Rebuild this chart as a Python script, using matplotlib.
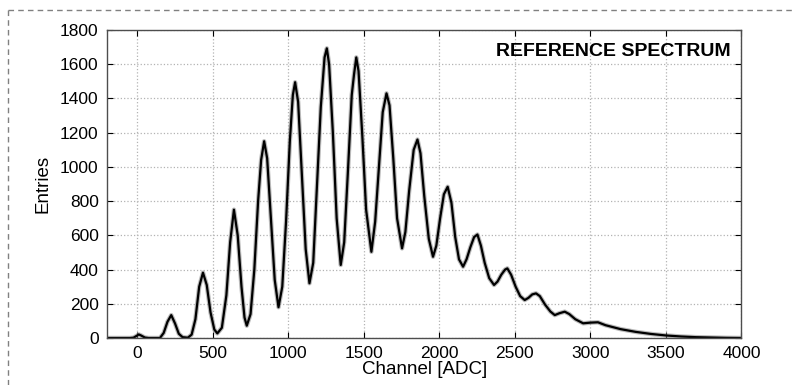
#!/usr/bin/env python3
import numpy as np
from matplotlib import pyplot as plt
from matplotlib.lines import Line2D

''' Reference spectrum of a photo-detector: entries per ADC channel. '''

# Values (channel, entries)
channel = [-190, -50, -25, 0, 10, 25, 50, 75, 150,
           175, 200, 225, 250, 275, 300, 335,
           360, 385, 410, 435, 460, 485, 510, 530,
           560, 590, 615, 640, 665, 690, 710, 725,
           750, 775, 800, 820, 840, 860, 885, 910, 935,
           960, 985, 1010, 1030, 1045, 1065, 1090, 1115, 1140,
           1165, 1190, 1215, 1240, 1255, 1270, 1295, 1320, 1347,
           1370, 1395, 1420, 1435, 1450, 1465, 1490, 1515, 1550,
           1575, 1600, 1625, 1650, 1670, 1695, 1720, 1753,
           1775, 1800, 1830, 1855, 1875, 1900, 1930, 1958,
           1980, 2005, 2030, 2055, 2080, 2105, 2130, 2157,
           2180, 2205, 2230, 2252, 2275, 2300, 2330, 2362,
           2385, 2410, 2435, 2450, 2475, 2505, 2535, 2565,
           2590, 2615, 2640, 2665, 2700, 2735, 2764,
           2795, 2830, 2860, 2900, 2952,
           3000, 3050, 3100, 3200, 3300, 3400, 3500, 3600, 3700, 3800, 3900, 4000]
entries = [0, 0, 2, 15, 21, 15, 3, 0, 0,
           30, 95, 134, 85, 25, 5, 2,
           20, 110, 300, 382, 310, 150, 50, 27,
           60, 250, 560, 750, 600, 300, 120, 72,
           140, 400, 800, 1040, 1150, 1050, 700, 340, 180,
           300, 680, 1150, 1420, 1495, 1380, 950, 520, 320,
           440, 900, 1350, 1640, 1693, 1600, 1200, 700, 427,
           560, 980, 1420, 1540, 1640, 1560, 1180, 750, 504,
           680, 1000, 1320, 1430, 1360, 1050, 700, 524,
           620, 860, 1100, 1160, 1080, 830, 580, 475,
           540, 700, 840, 884, 790, 590, 460, 417,
           460, 530, 590, 605, 540, 440, 350, 310,
           330, 370, 400, 407, 370, 300, 245, 222,
           235, 255, 261, 245, 195, 155, 134,
           145, 154, 140, 110, 86,
           90, 92, 75, 52, 36, 24, 15, 9, 5, 3, 1, 0]

xticks = [0, 500, 1000, 1500, 2000, 2500, 3000, 3500, 4000]
yticks = [0, 200, 400, 600, 800, 1000, 1200, 1400, 1600, 1800]

plt.rcParams['font.family'] = ['Liberation Sans', 'DejaVu Sans']

fig = plt.figure(figsize=(7.93, 3.85), dpi=100)
ax = fig.add_axes([0.135, 0.122, 0.8, 0.8])

# Thick fuzzy trace like the scanned plot
ax.plot(channel, entries, color='0.55', lw=3.2, alpha=0.6, solid_joinstyle='round')
ax.plot(channel, entries, color='k', lw=1.6, solid_joinstyle='round')

ax.set_xlim(-200, 4000)
ax.set_ylim(0, 1800)
ax.set_xticks(xticks)
ax.set_yticks(yticks)
ax.tick_params(direction='in', length=4, top=True, right=True, labelsize=12.5, pad=6)
ax.grid(True, linestyle=':', color='0.7', lw=0.9)
for s in ax.spines.values():
    s.set_color('0.3')
    s.set_linewidth(1.0)

ax.set_xlabel('Channel [ADC]', fontsize=13.5, labelpad=0)
ax.set_ylabel('Entries', fontsize=13.5, labelpad=6)
ax.text(0.983, 0.929, 'REFERENCE SPECTRUM', transform=ax.transAxes, ha='right',
        va='center', fontsize=14, fontweight='bold')

# Dashed frame on top and left edge of the figure
fig.add_artist(Line2D([0.01, 1.0], [0.974, 0.974], color='0.5', lw=1, ls=(0, (4, 3))))
fig.add_artist(Line2D([0.01, 0.01], [0.0, 0.974], color='0.5', lw=1, ls=(0, (4, 3))))

fig.savefig('out.png', dpi=100)
